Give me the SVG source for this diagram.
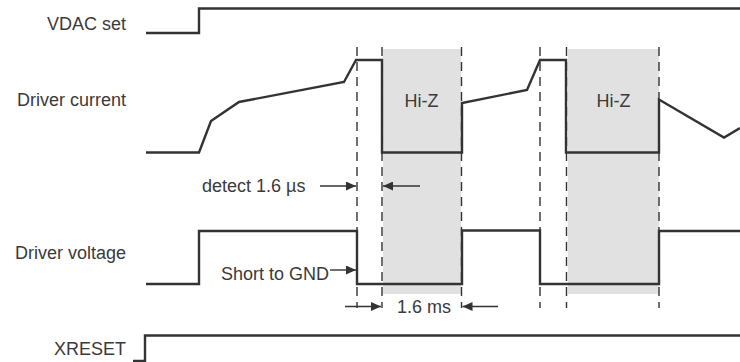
<svg xmlns="http://www.w3.org/2000/svg" width="740" height="362" viewBox="0 0 740 362">
  <style>
    .lbl { font-family: "Liberation Sans", Arial, sans-serif; font-size: 18px; fill: #3a3a3a; }
    .sig { fill: none; stroke: #333333; stroke-width: 2.4; stroke-linejoin: miter; }
    .dash { fill: none; stroke: #333333; stroke-width: 1.4; stroke-dasharray: 9 6; }
    .arr { fill: none; stroke: #333333; stroke-width: 1.4; marker-end: url(#ah); }
    .hiz { fill: #e1e1e1; stroke: none; }
  </style>
  <defs>
    <marker id="ah" markerUnits="userSpaceOnUse" markerWidth="11" markerHeight="9" refX="10" refY="4.5" orient="auto">
      <path d="M0,0 L10,4.5 L0,9 Z" fill="#333333"/>
    </marker>
  </defs>
  <rect width="740" height="362" fill="#ffffff"/>

  <g id="hiz-regions">
    <rect class="hiz" x="383" y="49" width="78" height="245"/>
    <rect class="hiz" x="568" y="49" width="91" height="245"/>
  </g>

  <g id="labels">
    <text class="lbl" x="126" y="29.5" text-anchor="end">VDAC set</text>
    <text class="lbl" x="126" y="106" text-anchor="end">Driver current</text>
    <text class="lbl" x="126" y="258.5" text-anchor="end">Driver voltage</text>
    <text class="lbl" x="126" y="355" text-anchor="end">XRESET</text>
  </g>

  <g id="vdac-set">
    <polyline class="sig" points="146,33 199,33 199,8.5 740,8.5"/>
  </g>

  <g id="driver-current">
    <polyline class="sig" points="146,152.5 199,152.5 211,121 239,102 344,82 356,60 382,60 382,152.5 462,152.5 462,103 527,90 540,60 566,60 566,152.5 659,152.5 659,99.5 724,137.5 740,128"/>
    <text class="lbl" x="421.5" y="107" text-anchor="middle">Hi-Z</text>
    <text class="lbl" x="613.5" y="107" text-anchor="middle">Hi-Z</text>
  </g>

  <g id="driver-voltage">
    <polyline class="sig" points="146,284 199,284 199,231 357,231 357,284 462,284 462,230.5 540,230.5 540,284 659,284 659,231 740,231"/>
  </g>

  <g id="xreset">
    <polyline class="sig" points="133,361 145,361 145,335.5 740,335.5"/>
  </g>

  <g id="connectors">
    <line class="dash" x1="357" y1="47" x2="357" y2="308"/>
    <line class="dash" x1="382" y1="47" x2="382" y2="308"/>
    <line class="dash" x1="461.5" y1="47" x2="461.5" y2="308"/>
    <line class="dash" x1="540" y1="47" x2="540" y2="308"/>
    <line class="dash" x1="566.5" y1="47" x2="566.5" y2="308"/>
    <line class="dash" x1="659" y1="47" x2="659" y2="308"/>

    <line class="arr" x1="320" y1="186" x2="356" y2="186"/>
    <line class="arr" x1="420" y1="186" x2="383" y2="186"/>
    <line class="arr" x1="330" y1="270" x2="356" y2="270"/>
    <line class="arr" x1="345" y1="306.5" x2="381" y2="306.5"/>
    <line class="arr" x1="498" y1="306.5" x2="462.5" y2="306.5"/>
  </g>

  <g id="annotations">
    <text class="lbl" x="202" y="191.5">detect 1.6 µs</text>
    <text class="lbl" x="329" y="280" text-anchor="end">Short to GND</text>
    <text class="lbl" x="424" y="312.5" text-anchor="middle">1.6 ms</text>
  </g>
</svg>
